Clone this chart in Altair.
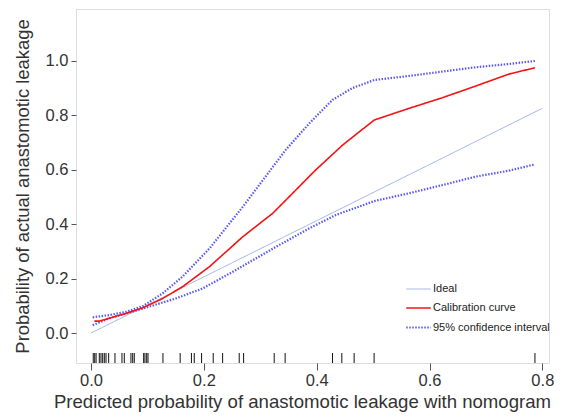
import altair as alt
import pandas as pd

# ---- data ----
x_ticks = [0.0, 0.2, 0.4, 0.6, 0.8]
y_ticks = [0.0, 0.2, 0.4, 0.6, 0.8, 1.0]

ideal_x = [0.0, 0.8]
ideal_y = [0.0, 0.826]

cal_x = [0.006, 0.015, 0.038, 0.062, 0.092, 0.127, 0.162, 0.210, 0.269, 0.322,
         0.357, 0.398, 0.446, 0.502, 0.564, 0.623, 0.682, 0.741, 0.787]
cal_y = [0.044, 0.044, 0.058, 0.072, 0.093, 0.127, 0.170, 0.244, 0.354, 0.440,
         0.513, 0.599, 0.691, 0.783, 0.826, 0.865, 0.908, 0.952, 0.975]

upper_x = [0.003, 0.032, 0.062, 0.092, 0.127, 0.162, 0.210, 0.269, 0.345, 0.387,
           0.428, 0.463, 0.502, 0.564, 0.623, 0.682, 0.741, 0.787]
upper_y = [0.058, 0.066, 0.078, 0.099, 0.146, 0.207, 0.311, 0.464, 0.673, 0.771,
           0.857, 0.900, 0.930, 0.945, 0.961, 0.977, 0.989, 1.000]

lower_x = [0.003, 0.032, 0.062, 0.092, 0.150, 0.198, 0.257, 0.328, 0.387, 0.434,
           0.502, 0.564, 0.623, 0.682, 0.741, 0.787]
lower_y = [0.029, 0.054, 0.072, 0.090, 0.127, 0.164, 0.232, 0.317, 0.385, 0.434,
           0.485, 0.514, 0.544, 0.575, 0.597, 0.620]

rug_x = [0.004, 0.0066, 0.009, 0.0147, 0.0177, 0.0207, 0.0236, 0.0266, 0.0313,
         0.0425, 0.0549, 0.059, 0.0708, 0.0739, 0.0767, 0.0933, 0.0956, 0.0987,
         0.101, 0.1275, 0.158, 0.178, 0.183, 0.196, 0.2166, 0.2333, 0.2627,
         0.2705, 0.3247, 0.3441, 0.4281, 0.4446, 0.4664, 0.5018, 0.7869]

series_names = ["Ideal", "Calibration curve", "95% confidence interval"]

rows = []
for x, y in zip(ideal_x, ideal_y):
    rows.append({"x": x, "y": y, "series": series_names[0], "part": "ideal"})
for x, y in zip(upper_x, upper_y):
    rows.append({"x": x, "y": y, "series": series_names[2], "part": "upper"})
for x, y in zip(lower_x, lower_y):
    rows.append({"x": x, "y": y, "series": series_names[2], "part": "lower"})
for x, y in zip(cal_x, cal_y):
    rows.append({"x": x, "y": y, "series": series_names[1], "part": "cal"})
df = pd.DataFrame(rows)
rug_df = pd.DataFrame({"x": rug_x})

FONT = "Liberation Sans"
xdom = [-0.0266, 0.8118]
ydom = [-0.110, 1.191]

xscale = alt.Scale(domain=xdom, nice=False, zero=False)
yscale = alt.Scale(domain=ydom, nice=False, zero=False)

x_axis = alt.Axis(values=x_ticks, format=".1f", grid=False, domain=False,
                  tickSize=7, tickColor="#555", labelFontSize=16.5, labelColor="#333",
                  labelFont=FONT, labelPadding=2,
                  title="Predicted probability of anastomotic leakage with nomogram",
                  titleFont=FONT, titleFontSize=18.6, titleFontWeight="normal",
                  titleColor="#333", titleX=226, titleY=44, titleAlign="center",
                  titleBaseline="alphabetic")
y_axis = alt.Axis(values=y_ticks, format=".1f", grid=False, domain=False,
                  tickSize=5, tickColor="#555", labelFontSize=16.5, labelColor="#333",
                  labelFont=FONT, labelPadding=3,
                  title="Probability of actual anastomotic leakage",
                  titleFont=FONT, titleFontSize=18.4, titleFontWeight="normal",
                  titleColor="#333", titleX=-48, titleY=177, titleAlign="center",
                  titleAngle=270, titleBaseline="alphabetic")

lines = alt.Chart(df).mark_line().encode(
    x=alt.X("x:Q", scale=xscale, axis=x_axis),
    y=alt.Y("y:Q", scale=yscale, axis=y_axis),
    color=alt.Color("series:N",
                    scale=alt.Scale(domain=series_names,
                                    range=["#9cb0e4", "#f21414", "#5a5af5"]),
                    legend=alt.Legend(title=None, orient="none", legendX=329,
                                      legendY=267, symbolType="stroke",
                                      symbolSize=600, labelFont=FONT,
                                      labelFontSize=11, labelColor="#222",
                                      labelOffset=1, rowPadding=0.5, padding=0)),
    strokeDash=alt.StrokeDash("series:N",
                              scale=alt.Scale(domain=series_names,
                                              range=[[1, 0], [1, 0], [1.5, 1.5]])),
    strokeWidth=alt.StrokeWidth("series:N",
                                scale=alt.Scale(domain=series_names,
                                                range=[1.0, 2.2, 1.1])),
    detail="part:N",
)

rug = alt.Chart(rug_df).mark_rule(color="#111", strokeWidth=1).encode(
    x=alt.X("x:Q", scale=xscale),
    y=alt.value(344),
    y2=alt.value(354),
)

chart = alt.layer(rug, lines).properties(
    width=473, height=354,
    autosize=alt.AutoSizeParams(type="none"),
    padding={"left": 68, "top": 1, "right": 5, "bottom": 49},
).configure_view(stroke="#555", strokeWidth=1).configure(background="white")

chart.save("out.html", embed_options={"renderer": "svg", "actions": False})
